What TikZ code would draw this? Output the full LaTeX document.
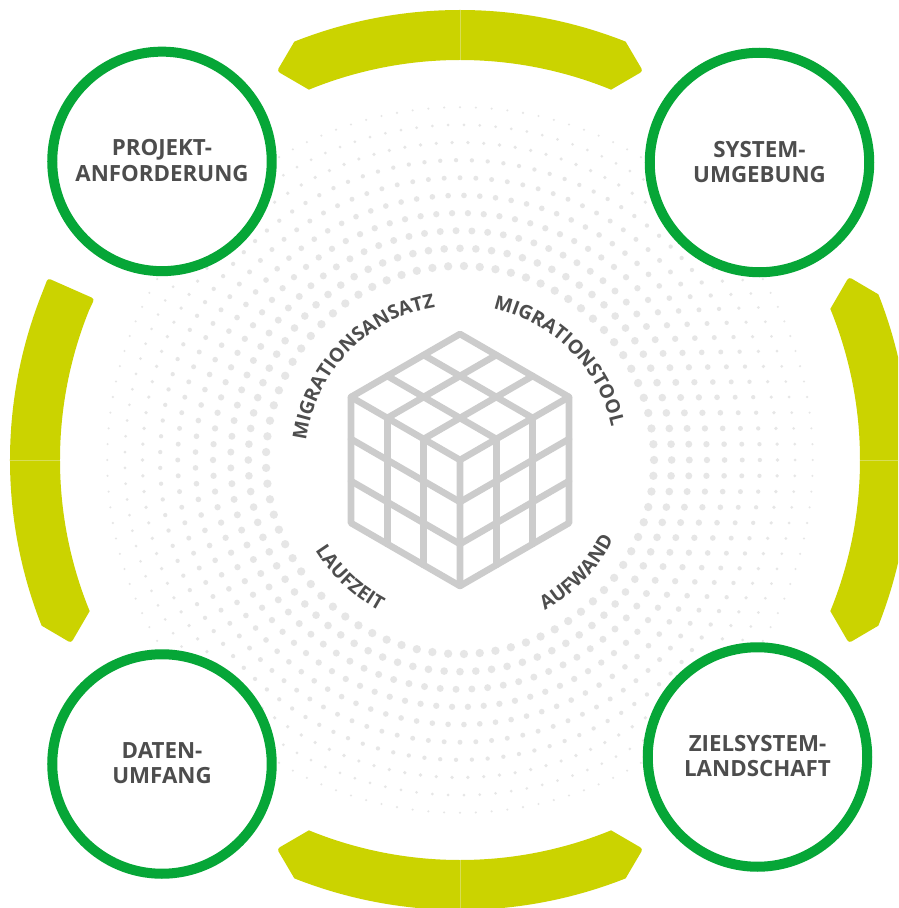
\documentclass[tikz,border=0pt]{standalone}
\usepackage{fontspec}
\setmainfont{Open Sans}[BoldFont={* Bold}]
\usetikzlibrary{decorations.text,calc}
\definecolor{lime}{HTML}{CBD300}
\definecolor{limeseam}{HTML}{D8DE55}
\definecolor{ringgreen}{HTML}{06A637}
\definecolor{labelgrey}{HTML}{4D4D4D}
\definecolor{cubegrey}{HTML}{CCCCCC}
\definecolor{dotgrey}{HTML}{E6E6E6}
\newcommand{\curvefont}{\fontsize{19.3}{20}\selectfont\bfseries\color{labelgrey}}
\newcommand{\tipband}[2]{% rotation, mirror
  \begin{scope}[rotate=#1,xscale=#2]
    \path[limeband] (90:450) arc[start angle=90,end angle=111.6,radius=450]
      [rounded corners=3pt] -- (115.2:429.8) [sharp corners] -- (112.2:400)
      arc[start angle=112.2,end angle=90,radius=400] -- cycle;
  \end{scope}}
\tikzset{
  ringnode/.style={circle,draw=ringgreen,line width=10pt,minimum size=219.5pt,inner sep=0pt,fill=white,
    align=center,text=labelgrey,font=\fontsize{22.3}{25.8}\selectfont\bfseries},
  limeband/.style={fill=lime,draw=none},
  seam/.style={draw=limeseam,line width=0.5pt},
  cubeline/.style={draw=cubegrey,line width=6.6pt,line join=round,line cap=round},
  curved/.style={decorate,decoration={text along path,text align=center,text={|\curvefont|#1}}},
}
\begin{document}
\begin{tikzpicture}[x=1pt,y=1pt]
\useasboundingbox (-460,-448) rectangle (438,460);
\fill[white] (-460,-448) rectangle (438,460);
\begin{scope}
\clip (-460,-448) rectangle (438,460);
% dots
\foreach \n in {77,84,...,140}{
  \pgfmathsetmacro{\rr}{\n*2.52}
  \pgfmathsetmacro{\dd}{(4.15-(\rr-194)*3.0/159)}
  \pgfmathtruncatemacro{\m}{\n-1}
  \foreach \k in {0,...,\m}{
    \pgfmathsetmacro{\aa}{\k/\n*360}
    \fill[dotgrey] (\aa:\rr) circle[radius=\dd];
  }
}
% bands: each half runs from a tip end to the seam
\tipband{0}{1}\tipband{0}{-1}
\tipband{90}{1}
\tipband{-90}{1}\tipband{-90}{-1}
\tipband{180}{1}\tipband{180}{-1}
% blunt upper half of the left band
\path[limeband] (180:450) arc[start angle=180,end angle=158,radius=450]
   [rounded corners=3pt] -- (156.2:450.5) -- (156.2:399.5) [sharp corners] -- (158:400) arc[start angle=158,end angle=180,radius=400] -- cycle;
\draw[seam] (90:400) -- (90:450);
\draw[seam] (0:400) -- (0:450);
\draw[seam] (-90:400) -- (-90:450);
\draw[seam] (180:400) -- (180:450);
\end{scope}
% cube
\coordinate (apex) at (0,126);
\coordinate (lt) at (-109,63);
\coordinate (rt) at (109,63);
\coordinate (fr) at (0,0);
\coordinate (lb) at (-109,-63);
\coordinate (rb) at (109,-63);
\coordinate (bo) at (0,-126);
\draw[cubeline] (apex) -- (rt) -- (rb) -- (bo) -- (lb) -- (lt) -- cycle;
\draw[cubeline] (lt) -- (fr) -- (rt) (fr) -- (bo);
\foreach \t in {0.3333,0.6667}{
  \draw[cubeline] ($(lt)!\t!(apex)$) -- ($(fr)!\t!(rt)$);
  \draw[cubeline] ($(rt)!\t!(apex)$) -- ($(fr)!\t!(lt)$);
  \draw[cubeline] ($(lt)!\t!(fr)$) -- ($(lb)!\t!(bo)$);
  \draw[cubeline] ($(rt)!\t!(fr)$) -- ($(rb)!\t!(bo)$);
  \draw[cubeline] ($(lt)!\t!(lb)$) -- ($(fr)!\t!(bo)$);
  \draw[cubeline] ($(rt)!\t!(rb)$) -- ($(fr)!\t!(bo)$);
}
% curved labels
\path[curved=MIGRATIONSANSATZ] (176:155) arc[start angle=176,end angle=96,radius=155];
\path[curved=MIGRATIONSTOOL] (85:155) arc[start angle=85,end angle=5,radius=155];
\path[curved=AUFWAND] (-69:173) arc[start angle=-69,end angle=-19,radius=173];
\path[curved=LAUFZEIT] (202:171) arc[start angle=202,end angle=252,radius=171];
% rings
\node[ringnode] (projekt) at (-298,298.6) {\raisebox{2pt}{PROJEKT-}\\\raisebox{2pt}{ANFORDERUNG}};
\node[ringnode] (system) at (299.5,297.5) {\raisebox{1pt}{SYSTEM-}\\\raisebox{1pt}{UMGEBUNG}};
\node[ringnode] (daten) at (-298,-304) {\raisebox{2pt}{DATEN-}\\\raisebox{2pt}{UMFANG}};
\node[ringnode] (ziel) at (297.5,-297) {\raisebox{2pt}{ZIELSYSTEM-}\\\raisebox{2pt}{LANDSCHAFT}};
\end{tikzpicture}
\end{document}
